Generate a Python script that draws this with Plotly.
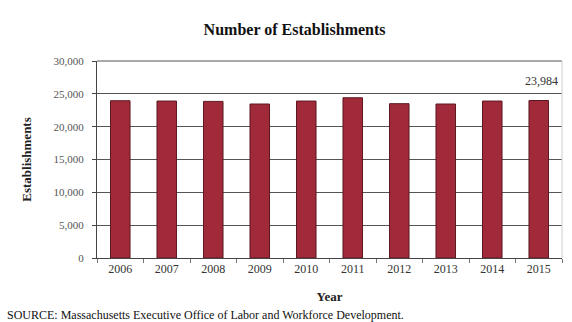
import plotly.graph_objects as go

years = ['2006', '2007', '2008', '2009', '2010', '2011', '2012', '2013', '2014', '2015']
establishments = [23950, 23900, 23850, 23450, 23900, 24400, 23500, 23450, 23900, 23984]
y_ticks = [0, 5000, 10000, 15000, 20000, 25000, 30000]
y_tick_labels = ['0', '5,000', '10,000', '15,000', '20,000', '25,000', '30,000']

serif = 'Liberation Serif, Times New Roman, serif'

fig = go.Figure()
fig.add_trace(go.Bar(
    x=years, y=establishments,
    marker=dict(color='#a0293a', line=dict(color='#5c1820', width=1)),
    width=0.42,
))

# value label on the last bar only (category index, not the year string)
fig.add_annotation(x=len(years) - 1, y=establishments[-1], text=f'{establishments[-1]:,}',
                   showarrow=False, yanchor='bottom', yshift=11, xshift=3,
                   font=dict(family=serif, size=12, color='#333'))

fig.add_annotation(text='SOURCE: Massachusetts Executive Office of Labor and Workforce Development.',
                   xref='paper', yref='paper', x=-0.197, y=-0.335, xanchor='left', yanchor='bottom',
                   showarrow=False, font=dict(family=serif, size=12, color='#111'))

fig.update_layout(
    width=572, height=322,
    margin=dict(l=97, r=10, t=61, b=64),
    paper_bgcolor='white', plot_bgcolor='white',
    showlegend=False,
    title=dict(text='<b>Number of Establishments</b>', x=0.515, xanchor='center', y=0.925,
               font=dict(family=serif, size=16, color='#111')),
    font=dict(family=serif, color='#444'),
)
fig.update_yaxes(
    range=[0, 30000], tickvals=y_ticks, ticktext=y_tick_labels,
    showgrid=True, gridcolor='#555', gridwidth=1,
    showline=True, linecolor='#444', ticks='outside', ticklen=4, tickcolor='#444',
    ticklabelstandoff=6,
    tickfont=dict(family=serif, size=11, color='#555'),
    title=dict(text='<b>Establishments</b>', standoff=18, font=dict(family=serif, size=13, color='#222')),
    zeroline=False,
)
fig.update_xaxes(
    type='category', range=[-0.5, len(years) - 0.5],
    showline=True, linecolor='#444', mirror=False,
    ticks='outside', ticklen=4, tickcolor='#777', tickson='boundaries',
    tickfont=dict(family=serif, size=12, color='#333'), tickangle=0,
    title=dict(text='<b>Year</b>', standoff=16, font=dict(family=serif, size=13, color='#222')),
)

# top gridline at 30,000 and light right-hand border of the plot area
fig.add_shape(type='line', xref='paper', yref='paper', x0=0, x1=1, y0=1, y1=1,
              line=dict(color='#555', width=1))
fig.add_shape(type='line', xref='paper', yref='paper', x0=1, x1=1, y0=0, y1=1,
              line=dict(color='#ccc', width=1))

fig.write_html('out.html', config={'displayModeBar': False},
               post_script="document.body.style.margin='0';")
